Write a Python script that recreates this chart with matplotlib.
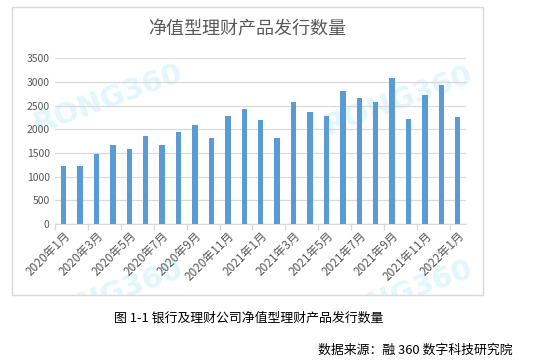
import matplotlib.pyplot as plt
import numpy as np
from matplotlib.patches import Rectangle

plt.rcParams['font.family'] = ['Noto Sans CJK SC', 'DejaVu Sans']

months = ['2020年1月', '2020年2月', '2020年3月', '2020年4月', '2020年5月', '2020年6月',
          '2020年7月', '2020年8月', '2020年9月', '2020年10月', '2020年11月', '2020年12月',
          '2021年1月', '2021年2月', '2021年3月', '2021年4月', '2021年5月', '2021年6月',
          '2021年7月', '2021年8月', '2021年9月', '2021年10月', '2021年11月', '2021年12月',
          '2022年1月']
counts = [1230, 1230, 1480, 1670, 1590, 1860, 1670, 1950, 2090, 1820, 2290, 2430, 2200,
          1820, 2580, 2370, 2290, 2810, 2670, 2580, 3090, 2220, 2730, 2940, 2260]
yticks = [0, 500, 1000, 1500, 2000, 2500, 3000, 3500]

W, H = 533, 362
fig = plt.figure(figsize=(W / 100, H / 100), dpi=100)

# outer chart frame
fig.patches.append(Rectangle((12 / W, 1 - 295 / H), 471 / W, 288 / H, transform=fig.transFigure,
                             fill=False, edgecolor='#d9d9d9', linewidth=1.0))

# watermarks (behind the axes)
wm = dict(color='#e2f7fd', fontsize=21, fontweight='bold', rotation=20,
          ha='center', va='center', family='DejaVu Sans', zorder=0)
clip = Rectangle((12 / W, 1 - 295 / H), 471 / W, 288 / H, transform=fig.transFigure)
for wx, wy in [(108, 99), (398, 101), (108, 295), (398, 295)]:
    t = fig.text(wx / W, 1 - wy / H, 'RONG360', **wm)
    t.set_clip_path(clip)

ax = fig.add_axes([55.3 / W, 1 - 224 / H, (466 - 55.3) / W, (224 - 58.3) / H])
ax.set_zorder(1)
ax.patch.set_alpha(0)
x = np.arange(len(counts))
ax.bar(x, counts, width=0.33, color='#5b9bd5', zorder=3)

ax.set_xlim(-0.5, len(counts) - 0.5)
ax.set_ylim(0, 3500)
ax.set_yticks(yticks)
ax.set_yticklabels([str(v) for v in yticks], color='#595959', fontsize=7.5)
ax.yaxis.grid(True, color='#d9d9d9', linewidth=0.9, zorder=0)
ax.tick_params(axis='y', length=0, pad=4)

# tick marks on category boundaries, labels at every other category
ax.set_xticks(np.arange(-0.5, len(counts), 2))
ax.set_xticklabels([])
ax.set_xticks(x[::2], minor=True)
ax.set_xticklabels(months[::2], minor=True, rotation=45, ha='right', va='top',
                   rotation_mode='anchor', color='#595959', fontsize=8.5)
ax.tick_params(axis='x', which='major', length=4, color='#d9d9d9', width=0.9)
ax.tick_params(axis='x', which='minor', length=0, pad=4)

for s in ['top', 'right', 'left']:
    ax.spines[s].set_visible(False)
ax.spines['bottom'].set_color('#d9d9d9')
ax.spines['bottom'].set_linewidth(0.9)

fig.text(247 / W, 1 - 29 / H, '净值型理财产品发行数量', ha='center', va='center',
         fontsize=13, color='#595959')
fig.text(249 / W, 1 - 318 / H, '图 1-1 银行及理财公司净值型理财产品发行数量', ha='center', va='center',
         fontsize=9.3, color='black')
fig.text(513 / W, 1 - 350 / H, '数据来源：融 360 数字科技研究院', ha='right', va='center',
         fontsize=9.3, color='black')

fig.savefig('out.png', dpi=100)
